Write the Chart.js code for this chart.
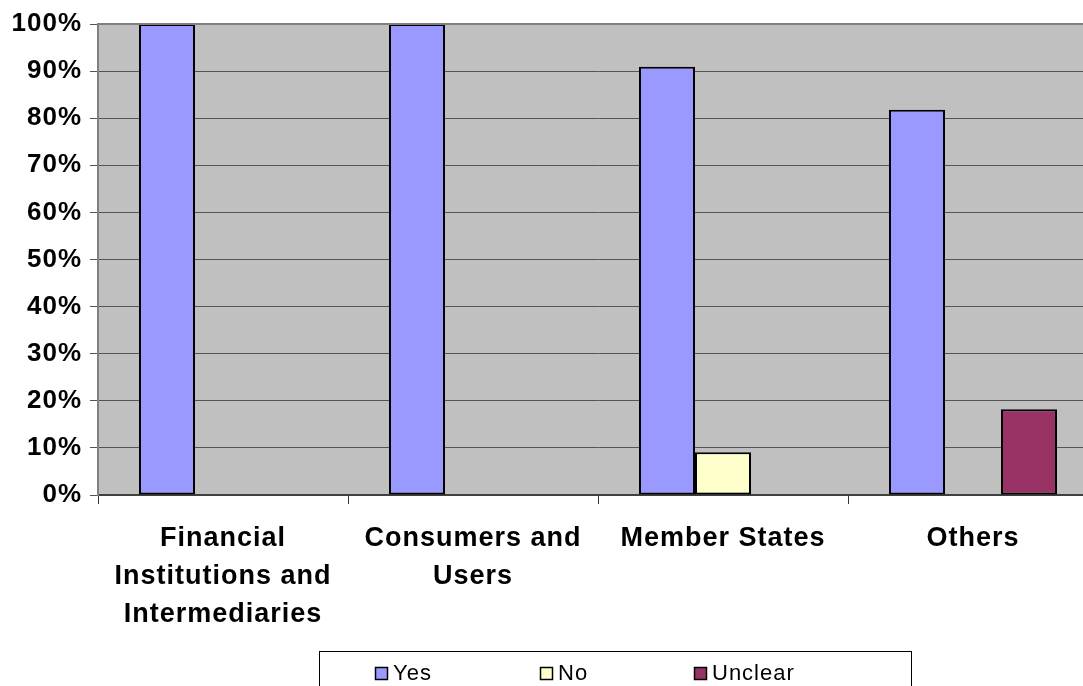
<!DOCTYPE html>
<html>
<head>
<meta charset="utf-8">
<title>Responses by stakeholder group</title>
<script src="https://cdn.jsdelivr.net/npm/chart.js@4.4.1/dist/chart.umd.min.js"></script>
<style>
  html, body { margin: 0; padding: 0; background: #ffffff; overflow: hidden; }
  #wrap { position: relative; width: 1100px; height: 686px; }
</style>
</head>
<body>
<div id="wrap"><canvas id="chart" width="1100" height="686"></canvas></div>
<script>
// Stakeholder groups along the x axis
const categories = [
  ['Financial', 'Institutions and', 'Intermediaries'],
  ['Consumers and', 'Users'],
  'Member States',
  'Others'
];

// Share of answers per group (percent)
const yesValues = [100, 100, 90.9, 81.8];
const noValues = [null, null, 9.1, null];
const unclearValues = [null, null, null, 18.2];

const seriesNames = ['Yes', 'No', 'Unclear'];
const yTickValues = [0, 10, 20, 30, 40, 50, 60, 70, 80, 90, 100];

const colors = ['#9999FF', '#FFFFCC', '#993366'];
const FONT = '"Liberation Sans", Arial, sans-serif';

// Slightly open letter spacing for all canvas text
const textSpacing = {
  id: 'textSpacing',
  beforeUpdate(chart) { chart.ctx.letterSpacing = '1px'; },
  beforeDraw(chart) { chart.ctx.letterSpacing = '1px'; }
};

// Grey plot background with a light frame on top and left
const plotBackground = {
  id: 'plotBackground',
  beforeDraw(chart) {
    const { ctx, chartArea: a } = chart;
    ctx.save();
    ctx.fillStyle = '#C0C0C0';
    ctx.fillRect(a.left, a.top, a.right - a.left, a.bottom - a.top);
    ctx.restore();
  },
  afterDatasetsDraw(chart) {
    const { ctx, chartArea: a } = chart;
    ctx.save();
    ctx.strokeStyle = '#808080';
    ctx.lineWidth = 2;
    ctx.beginPath();
    ctx.moveTo(a.left, a.bottom);
    ctx.lineTo(a.left, a.top);
    ctx.lineTo(a.right, a.top);
    ctx.stroke();
    ctx.restore();
  }
};

// Framed legend below the category labels
const framedLegend = {
  id: 'framedLegend',
  afterDraw(chart) {
    const { ctx } = chart;
    const box = { x: 319.5, y: 651.5, w: 592, h: 60 };
    const itemX = [375, 540, 694];
    ctx.save();
    ctx.fillStyle = '#ffffff';
    ctx.fillRect(box.x, box.y, box.w, box.h);
    ctx.strokeStyle = '#000000';
    ctx.lineWidth = 1;
    ctx.strokeRect(box.x, box.y, box.w, box.h);
    ctx.font = '22px ' + FONT;
    ctx.textBaseline = 'alphabetic';
    chart.data.datasets.forEach((ds, i) => {
      const x = itemX[i];
      ctx.fillStyle = ds.backgroundColor;
      ctx.fillRect(x + 0.5, 667.5, 12, 12);
      ctx.strokeStyle = '#000000';
      ctx.lineWidth = 1.5;
      ctx.strokeRect(x + 0.5, 667.5, 12, 12);
      ctx.fillStyle = '#000000';
      ctx.fillText(ds.label, x + 18, 680);
    });
    ctx.restore();
  }
};

const makeDataset = (label, data, color) => ({
  label,
  data,
  backgroundColor: color,
  borderColor: '#000000',
  borderWidth: 2,
  borderSkipped: false,
  barPercentage: 1.0,
  categoryPercentage: 0.672
});

new Chart(document.getElementById('chart'), {
  type: 'bar',
  data: {
    labels: categories,
    datasets: [
      makeDataset(seriesNames[0], yesValues, colors[0]),
      makeDataset(seriesNames[1], noValues, colors[1]),
      makeDataset(seriesNames[2], unclearValues, colors[2])
    ]
  },
  options: {
    responsive: false,
    devicePixelRatio: 1,
    animation: false,
    layout: { padding: { top: 24, right: 2, bottom: 0, left: 0 } },
    plugins: {
      legend: { display: false },
      tooltip: { enabled: false }
    },
    scales: {
      x: {
        afterFit(scale) { scale.height = 191; },
        grid: {
          offset: true,
          drawOnChartArea: false,
          drawTicks: true,
          tickLength: 9,
          color: '#333333',
          lineWidth: 1
        },
        border: { color: '#404040', width: 2 },
        ticks: {
          color: '#000000',
          padding: 16,
          maxRotation: 0,
          autoSkip: false,
          font: { family: FONT, size: 27, weight: 'bold', lineHeight: 1.407 }
        }
      },
      y: {
        min: 0,
        max: 100,
        afterFit(scale) { scale.width = 98; },
        afterBuildTicks(scale) {
          scale.ticks = yTickValues.map(v => ({ value: v }));
        },
        grid: {
          color: '#555555',
          lineWidth: 1,
          drawTicks: true,
          tickLength: 8
        },
        border: { color: '#808080', width: 2 },
        ticks: {
          color: '#000000',
          padding: 8,
          font: { family: FONT, size: 26, weight: 'bold' },
          callback: v => v + '%'
        }
      }
    }
  },
  plugins: [textSpacing, plotBackground, framedLegend]
});
</script>
</body>
</html>
